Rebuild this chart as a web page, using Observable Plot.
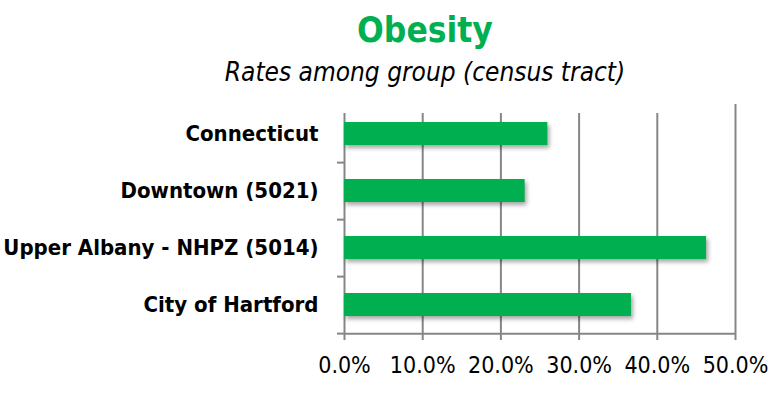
<!DOCTYPE html>
<html>
<head>
<meta charset="utf-8">
<script src="https://cdn.jsdelivr.net/npm/d3@7"></script>
<script src="https://cdn.jsdelivr.net/npm/@observablehq/plot@0.6"></script>
<style>
  html, body { margin: 0; padding: 0; background: #fff; }
  #wrap { width: 776px; height: 394px; position: relative; overflow: hidden; font-family: "Liberation Sans Narrow", "DejaVu Sans Condensed", "Liberation Sans", sans-serif; }
  #head { position: relative; height: 95px; }
  #title { position: absolute; left: 0; width: 850px; top: 9px; text-align: center; font-weight: bold; font-size: 35px; color: #00B050; line-height: 42px; }
  #subtitle { position: absolute; left: 0; width: 850px; top: 57px; text-align: center; font-style: italic; font-size: 26px; color: #000; line-height: 30px; }
  #chart svg { display: block; }
</style>
</head>
<body>
<div id="wrap">
  <div id="head">
    <div id="title">Obesity</div>
    <div id="subtitle">Rates among group (census tract)</div>
  </div>
  <div id="chart"></div>
</div>
<script>
const categories = ["Connecticut", "Downtown (5021)", "Upper Albany - NHPZ (5014)", "City of Hartford"];
const values = [26.0, 23.1, 46.3, 36.7];
const xTicks = [0, 10, 20, 30, 40, 50];

const data = categories.map((c, i) => ({category: c, value: values[i]}));
const gray = "#868686";
const font = "'Liberation Sans Narrow', 'DejaVu Sans Condensed', 'Liberation Sans', sans-serif";
const step = (299 - 9 - 61) / 4;

const plot = Plot.plot({
  width: 776,
  height: 299,
  marginTop: 9,
  marginBottom: 61,
  marginLeft: 344,
  marginRight: 41,
  style: {fontFamily: font, color: "#000", background: "#fff", overflow: "visible"},
  x: {domain: [0, 50], ticks: xTicks, tickFormat: d => d.toFixed(1) + "%"},
  y: {domain: categories, paddingInner: 0.6, paddingOuter: 0.3},
  marks: [
    Plot.gridX(xTicks.filter(t => t < 50), {stroke: gray, strokeWidth: 2, strokeOpacity: 1, insetTop: 9}),
    Plot.gridX([50], {stroke: gray, strokeWidth: 2, strokeOpacity: 1}),
    Plot.barX(data, {x: "value", y: "category", fill: "#00B050"}),
    Plot.ruleY([categories[categories.length - 1]], {dy: step / 2, x1: 0, x2: 50, stroke: gray, strokeWidth: 2}),
    Plot.ruleY(categories, {dy: step / 2, x1: 0, x2: 0, insetLeft: -7, stroke: gray, strokeWidth: 2}),
    Plot.axisX({ticks: xTicks, tickFormat: d => d.toFixed(1) + "%", tickSize: 7, tickPadding: 16, fontSize: 23, stroke: gray, strokeWidth: 2, label: null}),
    Plot.axisY({tickSize: 0, tickPadding: 26, fontSize: 22, fontWeight: "bold", label: null})
  ]
});
const bars = plot.querySelector('g[aria-label="bar"]');
if (bars) bars.setAttribute("style", "filter: drop-shadow(2px 3px 2px rgba(0,0,0,0.35))");
document.getElementById("chart").appendChild(plot);
</script>
</body>
</html>
